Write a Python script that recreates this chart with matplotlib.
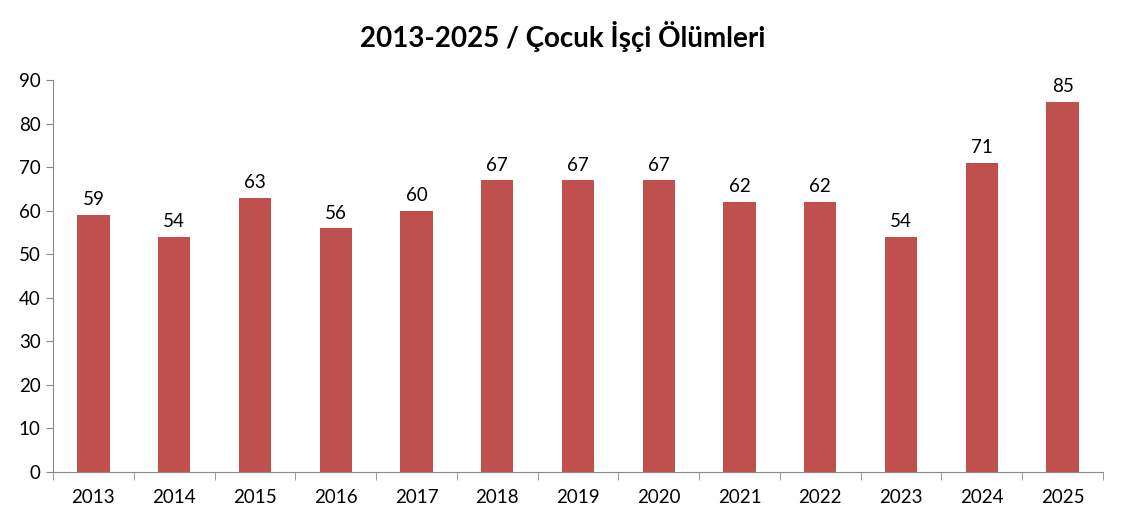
import numpy as np
import matplotlib
matplotlib.use("Agg")
import matplotlib.pyplot as plt

# Veriler
years = ["2013", "2014", "2015", "2016", "2017", "2018", "2019",
         "2020", "2021", "2022", "2023", "2024", "2025"]
deaths = [59, 54, 63, 56, 60, 67, 67, 67, 62, 62, 54, 71, 85]

plt.rcParams["font.family"] = ["Lato", "DejaVu Sans"]

fig = plt.figure(figsize=(11.25, 5.25), dpi=100)
ax = fig.add_axes([0.0471, 0.101, 0.9333, 0.7466])

x = np.arange(len(years))
ax.bar(x, deaths, width=0.4, color="#C0504D")

for xi, v in zip(x, deaths):
    ax.text(xi, v + 1.5, str(v), ha="center", va="bottom", fontsize=13.5, color="#000000")

ax.set_xlim(-0.5, len(years) - 0.5)
ax.set_ylim(0, 90)
ax.set_yticks(range(0, 91, 10))
ax.tick_params(axis="y", labelsize=13.5, length=5, color="#888888", pad=4)

# x ekseni: etiketler ortada, işaretler kategoriler arasında
ax.set_xticks(x)
ax.set_xticklabels(years, fontsize=13.5)
ax.tick_params(axis="x", length=0, pad=12)
ax.set_xticks(np.arange(-0.5, len(years)), minor=True)
ax.tick_params(axis="x", which="minor", length=6, color="#888888")

for side in ["top", "right"]:
    ax.spines[side].set_visible(False)
for side in ["left", "bottom"]:
    ax.spines[side].set_color("#888888")

fig.text(0.5, 0.93, "2013-2025 / Çocuk İşçi Ölümleri", ha="center", va="center",
         fontsize=20, fontweight="bold")

fig.savefig("out.png", dpi=100)
